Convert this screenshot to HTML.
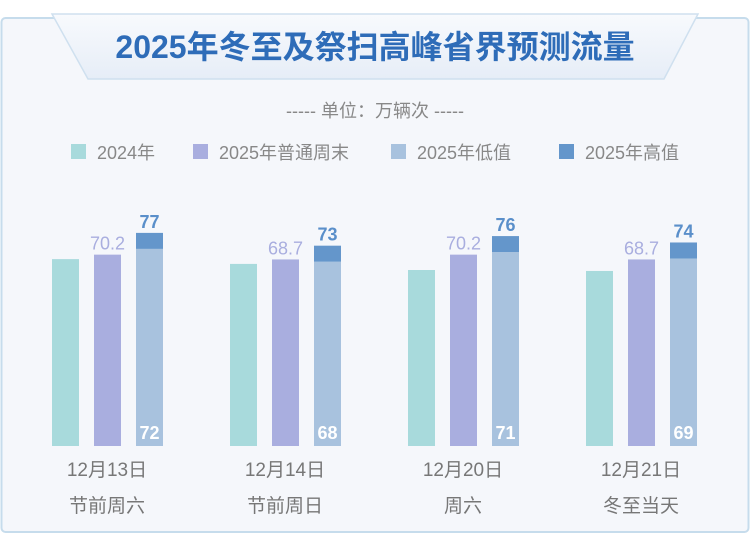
<!DOCTYPE html>
<html><head><meta charset="utf-8"><style>
html,body{margin:0;padding:0;width:750px;height:534px;overflow:hidden;background:#fff;font-family:"Liberation Sans","Noto Sans CJK SC",sans-serif}
</style></head><body>
<svg width="750" height="534" xmlns="http://www.w3.org/2000/svg">
<defs><linearGradient id="bn" x1="0" y1="0" x2="0" y2="1"><stop offset="0" stop-color="#f8fafd"/><stop offset="1" stop-color="#e6edf7"/></linearGradient></defs>
<rect x="1.5" y="18" width="747" height="514" rx="4" fill="#f5f7fb" stroke="#c6dcec" stroke-width="2"/>
<path d="M52,19 L698,19 L666,112 L84,112 Z" fill="none"/>
<path d="M52,20 L698,20 L666,112 L84,112 Z" fill="none"/>
<path d="M52,20 L698,20 L664,112 L88,112 Z" fill="none"/>
<path d="M52,20 L698,20 L664,112 L88,112 Z" fill="none"/>
<path d="M52,20 L698,20 L664,113 L98,113 Z" fill="none"/>
<path d="M52,19 L698,19 L662,113 L98,113 Z" fill="none"/>
<path d="M52,19 L698,19 L650,113 L100,113 Z" fill="none"/>
<path d="M52,19 L698,19 L662,113 L100,113 Z" fill="none"/>
<path d="M52,19 L698,19 L652,113 L100,113 Z" fill="none"/>
<path d="M52,19 L698,19 L664,113 L98,113 Z" fill="none"/>
<path d="M52,19 L698,19 L652,113 L100,113 Z" fill="none"/>
<path d="M52,19 L698,19 L660,113 L98,113 Z" fill="none"/>
<path d="M52,19 L698,19 L662,113 L100,113 Z" fill="none"/>
<path d="M52,19 L698,19 L654,113 L100,113 Z" fill="none"/>
<path d="M52,19 L698,19 L654,113 L100,113 Z" fill="none"/>
<path d="M52,19 L698,19 L654,113 L100,113 Z" fill="none"/>
<path d="M52,19 L698,19 L654,113 L100,113 Z" fill="none"/>
<path d="M52,14 L698,14 L664,79 L88,79 Z" fill="url(#bn)" stroke="#cfe0ef" stroke-width="1.5"/>
<text x="375" y="58" text-anchor="middle" font-size="32" font-weight="bold" fill="#2e6cb8">2025年冬至及祭扫高峰省界预测流量</text>
<text x="375" y="117" text-anchor="middle" font-size="18" fill="#888">----- 单位：万辆次 -----</text>
<g id="legend" font-size="18" fill="#888"></g>
<g id="bars"></g>
</svg>
<script>
const categories=["12月13日","12月14日","12月20日","12月21日"];
const subLabels=["节前周六","节前周日","周六","冬至当天"];
const v2024=[68.8,67.3,65.4,65.1];
const vWeekend=[70.2,68.7,70.2,68.7];
const vLow=[72,68,71,69];
const vHigh=[77,73,76,74];
const legendNames=["2024年","2025年普通周末","2025年低值","2025年高值"];
const colors=["#a8dadc","#a9aedf","#a8c2de","#6496cb"];
const NS="http://www.w3.org/2000/svg";
function el(t,a,p,txt){const e=document.createElementNS(NS,t);for(const k in a)e.setAttribute(k,a[k]);if(txt!==undefined)e.textContent=txt;p.appendChild(e);return e;}
const base=446,v0=10.4,k=3.2;
function y(v){return base-(v-v0)*k;}
function gx(i){return 52+i*178;}
const bw=27;
const lg=document.getElementById('legend');
const lx=[71,193,391,559];
legendNames.forEach((n,i)=>{
 const r=el('rect',{x:lx[i],y:144,width:15,height:15,fill:colors[i]},lg);
 
 
 const t=el('text',{x:lx[i]+26,y:159},lg,n);
 
 
});
const g=document.getElementById('bars');
categories.forEach((c,i)=>{
 const x=gx(i);
 const b1=el('rect',{x:x,y:y(v2024[i]),width:bw,height:base-y(v2024[i]),fill:colors[0]},g);
 
 
 const b2=el('rect',{x:x+42,y:y(vWeekend[i]),width:bw,height:base-y(vWeekend[i]),fill:colors[1]},g);
 
 
 const b3=el('rect',{x:x+84,y:y(vLow[i]),width:bw,height:base-y(vLow[i]),fill:colors[2]},g);
 
 
 const b4=el('rect',{x:x+84,y:y(vHigh[i]),width:bw,height:y(vLow[i])-y(vHigh[i]),fill:colors[3]},g);
 
 
 const t1=el('text',{x:x+42+bw/2,y:y(vWeekend[i])-5,'text-anchor':'middle','font-size':'18',fill:'#a9aedf'},g,vWeekend[i].toFixed(1));
 
 
 const t2=el('text',{x:x+84+bw/2,y:y(vHigh[i])-5,'text-anchor':'middle','font-size':'18','font-weight':'bold',fill:'#5a8fca'},g,vHigh[i]);
 
 
 const t3=el('text',{x:x+84+bw/2,y:base-7,'text-anchor':'middle','font-size':'18','font-weight':'bold',fill:'#fff'},g,vLow[i]);
 
 
 const t4=el('text',{x:x+55,y:476,'text-anchor':'middle','font-size':'19',fill:'#777'},g,c);
 
 
 const t5=el('text',{x:x+55,y:512,'text-anchor':'middle','font-size':'19',fill:'#777'},g,subLabels[i]);
 
 
});
</script>
</body></html>
